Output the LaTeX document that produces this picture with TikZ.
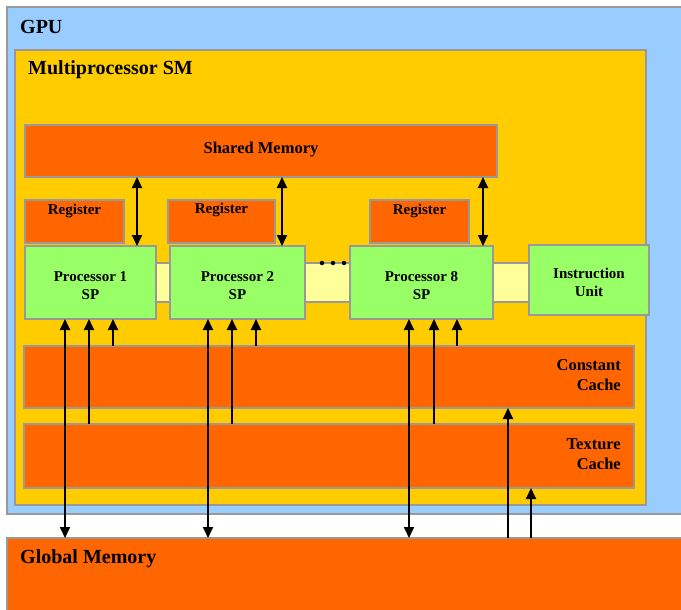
\documentclass[tikz,border=0pt]{standalone}
\usepackage{fontspec}
\setmainfont{Liberation Serif}
\usetikzlibrary{arrows.meta}
\definecolor{gpublue}{HTML}{99CCFF}
\definecolor{smyellow}{HTML}{FFCC00}
\definecolor{memorange}{HTML}{FF6600}
\definecolor{procgreen}{HTML}{99FF66}
\definecolor{barcream}{HTML}{FFFF99}
\definecolor{edgegray}{HTML}{999999}
\begin{document}
\begin{tikzpicture}[x=1pt,y=-1pt,
  box/.style={draw=edgegray, line width=1.5pt, anchor=north west, inner sep=0pt, outer sep=0pt},
  lbl/.style={font=\bfseries\fontsize{15}{18}\selectfont, align=center, inner sep=0pt},
  big/.style={font=\bfseries\fontsize{20}{22}\selectfont, anchor=west, inner sep=0pt},
  cachelbl/.style={font=\bfseries\fontsize{16.5}{20.5}\selectfont, align=right, anchor=east, inner sep=0pt},
  up/.style={line width=1.8pt, -{Triangle[length=11pt,width=10pt]}},
  both/.style={line width=1.8pt, {Triangle[length=11pt,width=10pt]}-{Triangle[length=11pt,width=10pt]}},
  dot/.style={circle, fill=black, inner sep=0pt, minimum size=4.5pt}]
\useasboundingbox (0,0) rectangle (681,610);
\fill[white] (0,0) rectangle (681,610);
% containers
\node[box, fill=gpublue, minimum width=700pt, minimum height=507pt] (gpu) at (7,7) {};
\node[box, fill=smyellow, minimum width=631pt, minimum height=455pt] (sm) at (15,50) {};
\node[big] (gputxt) at (20,27) {GPU};
\node[big] (smtxt) at (28,70) {Multiprocessor SM};
% shared memory and registers
\node[box, fill=memorange, minimum width=472pt, minimum height=52pt] (shared) at (25,125) {};
\node[lbl, font=\bfseries\fontsize{16.5}{18}\selectfont] (sharedtxt) at (261,150) {Shared Memory};
\node[box, fill=memorange, minimum width=99pt, minimum height=43pt] (r1) at (25,200) {};
\node[box, fill=memorange, minimum width=107pt, minimum height=43pt] (r2) at (168,200) {};
\node[box, fill=memorange, minimum width=99pt, minimum height=43pt] (r3) at (370,200) {};
\node[lbl] (r1t) at (74.5,211) {Register};
\node[lbl] (r2t) at (221.5,210) {Register};
\node[lbl] (r3t) at (419.5,211) {Register};
% bar and processors
\node[box, fill=barcream, minimum width=385pt, minimum height=39pt] (bar) at (150,263) {};
\node[box, fill=procgreen, minimum width=131pt, minimum height=73pt] (p1) at (25,246) {};
\node[box, fill=procgreen, minimum width=135pt, minimum height=73pt] (p2) at (170,246) {};
\node[box, fill=procgreen, minimum width=143pt, minimum height=73pt] (p8) at (350,246) {};
\node[box, fill=procgreen, minimum width=120pt, minimum height=70pt] (iu) at (529,245) {};
\node[lbl] (p1t) at ([yshift=-3pt]p1.center) {Processor 1\\SP};
\node[lbl] (p2t) at ([yshift=-3pt]p2.center) {Processor 2\\SP};
\node[lbl] (p8t) at ([yshift=-3pt]p8.center) {Processor 8\\SP};
\node[lbl] (iut) at ([yshift=-2pt]iu.center) {Instruction\\Unit};
\node[dot] (d1) at (322,263) {};
\node[dot] (d2) at (333,263) {};
\node[dot] (d3) at (344,263) {};
% caches
\node[box, fill=memorange, minimum width=610pt, minimum height=62pt] (const) at (24,346) {};
\node[box, fill=memorange, minimum width=610pt, minimum height=64pt] (tex) at (24,424) {};
\node[cachelbl] (constt) at (621,375) {Constant\\Cache};
\node[cachelbl] (text) at (621,454) {Texture\\Cache};
% global memory
\node[box, fill=memorange, minimum width=700pt, minimum height=100pt] (glob) at (7,538) {};
\node[big] (globt) at (20,559) {Global Memory};
% columns
\foreach \n/\x in {a/65,b/89,c/113,e/208,f/232,g/256,h/409,i/434,j/457,k/508,l/531,s1/137,s2/282,s3/483}
  \coordinate (\n) at (\x,0);
% shared memory <-> processors
\draw[both] (s1 |- shared.south) -- (s1 |- p1.north);
\draw[both] (s2 |- shared.south) -- (s2 |- p2.north);
\draw[both] (s3 |- shared.south) -- (s3 |- p8.north);
% global <-> processors
\draw[both] (a |- glob.north) -- (a |- p1.south);
\draw[both] (e |- glob.north) -- (e |- p2.south);
\draw[both] (h |- glob.north) -- (h |- p8.south);
% texture -> processors
\draw[up] (b |- tex.north) -- (b |- p1.south);
\draw[up] (f |- tex.north) -- (f |- p2.south);
\draw[up] (i |- tex.north) -- (i |- p8.south);
% constant -> processors
\draw[up] (c |- const.north) -- (c |- p1.south);
\draw[up] (g |- const.north) -- (g |- p2.south);
\draw[up] (j |- const.north) -- (j |- p8.south);
% global -> caches
\draw[up] (k |- glob.north) -- (k |- const.south);
\draw[up] (l |- glob.north) -- (l |- tex.south);
\end{tikzpicture}
\end{document}
